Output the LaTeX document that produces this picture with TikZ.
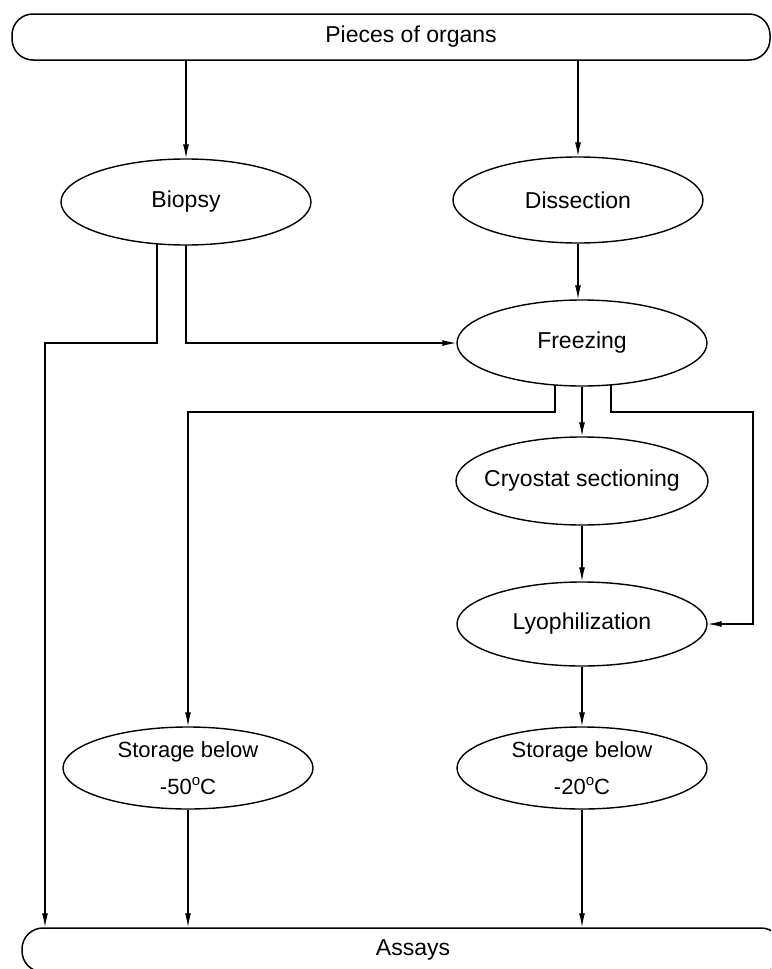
\documentclass[tikz,border=0pt]{standalone}
\usepackage{fontspec}
\setmainfont{Liberation Sans}
\usetikzlibrary{arrows.meta,shapes.geometric,backgrounds}
\newcommand{\degsup}{\raisebox{0.42em}{\fontsize{15}{15}\selectfont o}}
\begin{document}
\begin{tikzpicture}[x=1pt,y=-1pt,
  every node/.style={font=\fontsize{23}{36}\selectfont},
  oval/.style={ellipse,draw,fill=white,line width=1.4pt,minimum width=250pt,minimum height=86pt,inner sep=0pt,align=center},
  store/.style={oval,minimum height=82pt,font=\fontsize{22}{37}\selectfont},
  bar/.style={rectangle,rounded corners=21pt,draw,fill=white,line width=1.5pt,inner sep=0pt},
  conn/.style={line width=1.2pt},
  arr/.style={conn,-{Latex[length=14pt,width=6pt]}}]
\useasboundingbox (0,0) rectangle (771,969);
\clip (0,0) rectangle (771,969);
\begin{scope}[on background layer]
  \fill[white] (0,0) rectangle (771,969);
\end{scope}
% nodes
\node[bar,minimum width=758pt,minimum height=46pt] (top) at (391,37) {\hspace*{40pt}Pieces of organs};
\node[bar,minimum width=760pt,minimum height=44pt] (asy) at (402,950) {\hspace*{22pt}Assays};
\node[oval] (bio) at (186,202) {Biopsy};
\node[oval] (dis) at (578,200) {Dissection};
\node[oval] (frz) at (582,343) {Freezing};
\node[oval,minimum width=252pt,minimum height=88pt] (cry) at (582,481) {\makebox[150pt]{Cryostat sectioning}};
\node[oval,minimum height=84pt] (lyo) at (582,624) {Lyophilization};
\node[store] (s50) at (188,768) {Storage below\\-50\degsup C};
\node[store] (s20) at (582,768) {Storage below\\-20\degsup C};
\coordinate (bL) at (45,343);
\coordinate (fh) at (0,412);
\coordinate (fR) at (753,412);
% connectors
\begin{scope}[on background layer]
  \draw[arr] (top.south -| bio) -- (bio);
  \draw[arr] (top.south -| dis) -- (dis);
  \draw[arr] (dis) -- (dis |- frz.north);
  \draw[arr] ([xshift=-29pt]bio.center) |- (bL) -- (bL |- asy.north);
  \draw[arr] (bio.center) |- (frz);
  \draw[arr] ([xshift=-27pt]frz.center) |- (s50 |- fh) -- (s50);
  \draw[arr] (frz) -- (cry);
  \draw[arr] ([xshift=29pt]frz.center) |- (fR) |- (lyo);
  \draw[arr] (cry) -- (lyo);
  \draw[arr] (lyo) -- (s20);
  \draw[arr] (s20) -- (s20 |- asy.north);
  \draw[arr] (s50) -- (s50 |- asy.north);
\end{scope}
\end{tikzpicture}
\end{document}
